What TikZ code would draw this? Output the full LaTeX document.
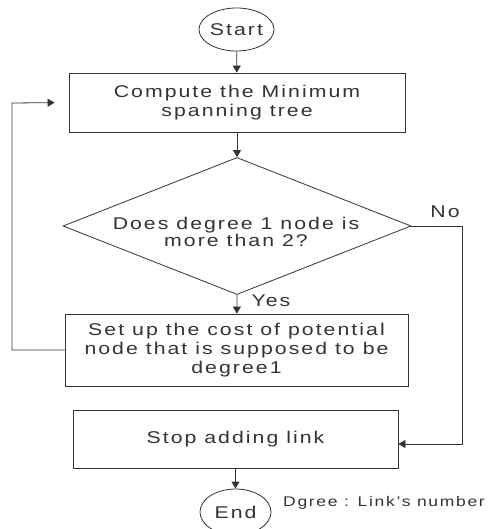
\documentclass[tikz,border=0pt]{standalone}
\usepackage{fontspec}
\setmainfont{Liberation Sans}[FakeStretch=1.25,LetterSpace=12]
\usetikzlibrary{shapes.geometric,arrows.meta}
\begin{document}
\begin{tikzpicture}[x=1pt,y=-1pt,
  every node/.style={font=\fontsize{17}{19}\selectfont, text=black!80},
  ln/.style={draw=black!80, line width=0.8pt},
  arr/.style={ln, -{Triangle[length=7pt,width=8pt]}},
  boxx/.style={ln, rectangle, inner sep=0pt, align=center},
  term/.style={ln, ellipse, inner sep=0pt, minimum width=71pt, minimum height=43pt}]
\useasboundingbox (0,0) rectangle (493,529);
\node[term] (start) at (236.5,29.5) {Start};
\node[boxx, minimum width=336pt, minimum height=59pt] (b1) at (237,102.5) {Compute the Minimum\\spanning tree};
\node[ln, diamond, inner sep=0pt, aspect=2.54, minimum width=348pt, minimum height=137pt] (d) at (237,226) {};
\node[align=center, font=\fontsize{17}{17.5}\selectfont] (dt) at (236,232) {Does degree 1 node is\\more than 2?};
\node[boxx, minimum width=343pt, minimum height=72pt] (b2) at (236.5,350) {Set up the cost of potential\\node that is supposed to be\\degree1};
\node[boxx, minimum width=325pt, minimum height=58pt] (b3) at (235.5,439) {Stop adding link};
\node[term, minimum height=46pt] (end) at (235.5,512) {End};
\node[anchor=west, inner sep=0pt, font=\fontsize{14}{16}\selectfont] (note) at (283,503) {Dgree : Link's number};
\node (no) at (445,212) {No};
\node (yes) at (271,301) {Yes};
\coordinate (c1) at (12,350);
\coordinate (c2) at (12,103);
\coordinate (c3) at (462,226);
\coordinate (c4) at (462,444);
\draw[arr] (start) -- (b1);
\draw[arr] (b1) -- (d.north);
\draw[arr] (d.south) -- (b2);
\draw[arr] (b3) -- (end);
\draw[arr, shorten >=14pt] (b2.west) -- (c1) -- (c2) -- (b1.west);
\draw[arr] (d.east) -- (c3) -- (c4) -- (b3.east |- c4);
\end{tikzpicture}
\end{document}
